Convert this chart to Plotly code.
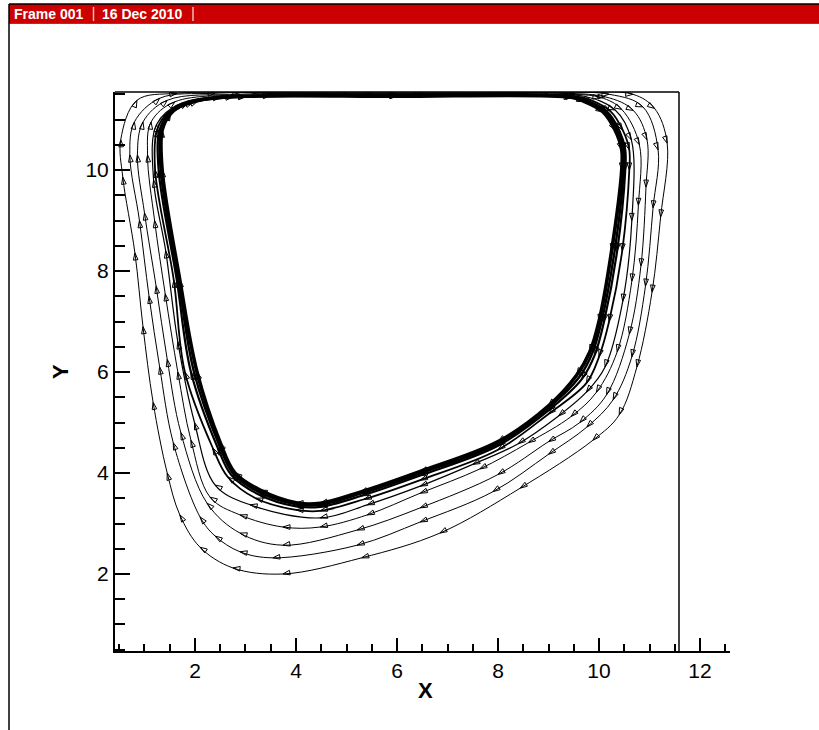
import plotly.graph_objects as go

# ---- streamline data; flow is clockwise ----
s1_x = [3.74, 2.75, 2.10, 1.70, 1.45, 1.17, 0.97, 0.81, 0.57, 0.53, 0.85, 1.64, 3.5, 6.5, 9.5, 10.67, 11.10, 11.35, 11.22, 11.05, 10.75, 10.40, 9.88, 8.44, 6.85, 5.30, 3.74]
s1_y = [2.00, 2.12, 2.53, 3.17, 4.00, 5.40, 6.90, 8.36, 9.86, 10.60, 11.38, 11.52, 11.53, 11.53, 11.53, 11.50, 11.22, 10.53, 9.07, 7.58, 6.10, 5.15, 4.65, 3.70, 2.81, 2.32, 2.00]

s2_x = [3.54, 2.89, 2.40, 2.10, 1.57, 1.30, 1.09, 0.90, 0.71, 0.80, 1.30, 2.4, 5.0, 8.0, 10.2, 10.87, 11.17, 11.07, 10.92, 10.65, 10.28, 9.76, 9.0, 7.9, 6.46, 5.21, 3.54]
s2_y = [2.32, 2.44, 2.75, 3.13, 4.60, 6.10, 7.50, 9.00, 10.30, 10.95, 11.42, 11.52, 11.52, 11.52, 11.50, 11.25, 10.40, 9.25, 7.70, 6.30, 5.45, 4.91, 4.37, 3.63, 3.03, 2.57, 2.32]

s3_x = [3.74, 2.89, 2.24, 1.72, 1.45, 1.23, 1.00, 0.86, 0.97, 1.45, 2.89, 5.5, 8.5, 10.12, 10.68, 10.95, 10.93, 10.83, 10.60, 10.15, 9.62, 9.0, 8.0, 6.46, 5.21, 3.74]
s3_y = [2.57, 2.81, 3.40, 4.80, 6.25, 7.70, 9.15, 10.30, 10.95, 11.38, 11.50, 11.51, 11.51, 11.45, 11.18, 10.60, 9.66, 8.10, 6.75, 5.55, 5.00, 4.62, 3.97, 3.31, 2.87, 2.57]

s4_x = [4.48, 3.74, 2.89, 2.30, 1.92, 1.66, 1.41, 1.20, 1.06, 1.13, 1.60, 3.29, 6.0, 9.0, 10.02, 10.45, 10.80, 10.78, 10.65, 10.36, 9.95, 9.45, 8.60, 7.64, 6.46, 5.41, 4.48]
s4_y = [2.93, 2.93, 3.17, 3.52, 4.65, 6.00, 7.55, 9.00, 10.30, 10.95, 11.35, 11.49, 11.50, 11.50, 11.44, 11.20, 10.50, 9.30, 7.80, 6.40, 5.60, 5.12, 4.60, 4.08, 3.60, 3.17, 2.93]

s5_x = [4.48, 3.09, 2.40, 1.99, 1.66, 1.42, 1.18, 1.24, 1.75, 3.49, 6.5, 9.6, 10.32, 10.64, 10.65, 10.47, 10.12, 9.75, 9.20, 8.40, 7.50, 6.46, 5.41, 4.48]
s5_y = [3.11, 3.37, 3.76, 5.00, 6.60, 8.40, 9.80, 10.90, 11.33, 11.47, 11.49, 11.48, 11.19, 10.60, 9.00, 7.40, 6.10, 5.60, 5.13, 4.58, 4.17, 3.74, 3.37, 3.11]

b1_x = [4.48, 4.0, 3.20, 2.65, 2.35, 1.80, 1.58, 1.21, 1.25, 1.48, 2.0, 3.0, 6.0, 9.55, 9.85, 10.22, 10.47, 10.60, 10.60, 10.46, 10.20, 10.00, 9.75, 9.00, 8.00, 6.46, 5.35, 4.48]
b1_y = [3.25, 3.27, 3.50, 3.92, 4.50, 6.00, 7.82, 10.0, 10.80, 11.15, 11.38, 11.46, 11.48, 11.46, 11.38, 11.17, 10.79, 10.40, 10.0, 8.40, 7.00, 6.30, 5.78, 5.17, 4.46, 3.86, 3.48, 3.25]

b2_x = [4.48, 4.0, 3.25, 2.72, 2.45, 1.92, 1.64, 1.28, 1.30, 1.50, 2.05, 3.0, 6.0, 9.5, 9.78, 10.15, 10.40, 10.52, 10.52, 10.36, 10.10, 9.92, 9.66, 9.00, 8.00, 6.46, 5.30, 4.48]
b2_y = [3.33, 3.34, 3.58, 3.96, 4.50, 6.00, 7.82, 10.0, 10.80, 11.13, 11.36, 11.45, 11.47, 11.45, 11.37, 11.17, 10.79, 10.40, 10.0, 8.40, 7.00, 6.35, 5.86, 5.24, 4.54, 3.95, 3.55, 3.33]

b3_x = [4.48, 4.0, 3.27, 2.76, 2.48, 1.98, 1.67, 1.32, 1.33, 1.51, 1.95, 2.75, 6.0, 9.48, 9.74, 10.12, 10.36, 10.49, 10.49, 10.31, 10.05, 9.87, 9.61, 9.00, 8.00, 6.46, 5.28, 4.48]
b3_y = [3.37, 3.38, 3.62, 3.98, 4.55, 6.00, 7.82, 10.0, 10.80, 11.125, 11.345, 11.445, 11.465, 11.445, 11.365, 11.16, 10.79, 10.40, 10.0, 8.40, 7.00, 6.38, 5.90, 5.29, 4.58, 3.99, 3.59, 3.37]

b4_x = [4.48, 4.0, 3.29, 2.79, 2.50, 2.04, 1.70, 1.35, 1.35, 1.52, 1.85, 2.50, 6.0, 9.45, 9.70, 10.08, 10.32, 10.45, 10.45, 10.25, 10.00, 9.82, 9.56, 9.00, 8.00, 6.46, 5.27, 4.48]
b4_y = [3.40, 3.41, 3.66, 4.00, 4.60, 6.00, 7.82, 10.0, 10.79, 11.12, 11.33, 11.44, 11.46, 11.44, 11.36, 11.15, 10.79, 10.40, 10.0, 8.40, 7.00, 6.40, 5.94, 5.33, 4.62, 4.03, 3.62, 3.40]

streamlines = [
    (s1_x, s1_y, 1.0), (s2_x, s2_y, 1.0), (s3_x, s3_y, 1.0),
    (s4_x, s4_y, 1.0), (s5_x, s5_y, 1.2),
    (b1_x, b1_y, 1.8), (b2_x, b2_y, 2.2), (b3_x, b3_y, 2.4), (b4_x, b4_y, 3.6),
]

x_ticks = [2, 4, 6, 8, 10, 12]
y_ticks = [2, 4, 6, 8, 10]

W, H = 819, 730
L, R, T, B = 115, 89, 92, 79
PW, PH = W - L - R, H - T - B


def px(xp):
    return (xp - L) / PW


def py(yp):
    return (H - B - yp) / PH


fig = go.Figure()
for xs, ys, w in streamlines:
    fig.add_trace(go.Scatter(
        x=xs, y=ys, mode="lines+markers",
        line=dict(color="black", width=w, shape="spline", smoothing=1.0),
        marker=dict(symbol="arrow-open", size=7.5, angleref="previous",
                    color="black", line=dict(color="black", width=1)),
        hoverinfo="skip", showlegend=False,
    ))

font = "Arial, Liberation Sans, Helvetica, sans-serif"

fig.update_xaxes(
    range=[0.416, 12.594], tickvals=x_ticks, ticktext=[str(v) for v in x_ticks],
    ticks="inside", ticklen=13, tickwidth=2, tickcolor="black",
    minor=dict(dtick=0.5, tick0=0, ticks="inside", ticklen=7, tickwidth=1.5, tickcolor="black"),
    showline=True, linecolor="black", linewidth=2, showgrid=False, zeroline=False,
    tickfont=dict(family=font, size=21, color="black"),
)
fig.update_yaxes(
    range=[0.475, 11.545], tickvals=y_ticks, ticktext=[str(v) for v in y_ticks],
    ticks="inside", ticklen=15, tickwidth=2, tickcolor="black",
    minor=dict(dtick=0.5, tick0=0, ticks="inside", ticklen=10, tickwidth=1.5, tickcolor="black"),
    showline=True, linecolor="black", linewidth=2, showgrid=False, zeroline=False,
    tickfont=dict(family=font, size=21, color="black"),
)

shapes = [
    dict(type="line", xref="paper", yref="paper", x0=0, x1=px(679), y0=1, y1=1,
         line=dict(color="black", width=1.5)),
    dict(type="line", xref="paper", yref="paper", x0=px(679), x1=px(679), y0=0, y1=1,
         line=dict(color="black", width=1.5)),
    dict(type="rect", xref="paper", yref="paper", x0=px(9), x1=px(830), y0=py(23), y1=py(4),
         fillcolor="#CC0000", line=dict(width=0)),
    dict(type="line", xref="paper", yref="paper", x0=px(9), x1=px(830), y0=py(4), y1=py(4),
         line=dict(color="black", width=1.5)),
    dict(type="line", xref="paper", yref="paper", x0=px(9), x1=px(830), y0=py(23.5), y1=py(23.5),
         line=dict(color="#555555", width=1)),
    dict(type="line", xref="paper", yref="paper", x0=px(9), x1=px(9), y0=py(4), y1=py(740),
         line=dict(color="black", width=1.5)),
    dict(type="line", xref="paper", yref="paper", x0=px(93.5), x1=px(93.5), y0=py(7), y1=py(21),
         line=dict(color="#F2B8B8", width=1.5)),
    dict(type="line", xref="paper", yref="paper", x0=px(193), x1=px(193), y0=py(7), y1=py(21),
         line=dict(color="#F2B8B8", width=1.5)),
]

annotations = [
    dict(text="<b>Frame 001</b>", xref="paper", yref="paper", x=px(12), y=py(14),
         xanchor="left", yanchor="middle", showarrow=False,
         font=dict(family=font, size=14, color="white")),
    dict(text="<b>16 Dec 2010</b>", xref="paper", yref="paper", x=px(100), y=py(14),
         xanchor="left", yanchor="middle", showarrow=False,
         font=dict(family=font, size=14, color="white")),
    dict(text="<b>X</b>", xref="paper", yref="paper", x=px(425), y=py(690),
         xanchor="center", yanchor="middle", showarrow=False,
         font=dict(family=font, size=22, color="black")),
    dict(text="<b>Y</b>", xref="paper", yref="paper", x=px(60), y=py(372),
         xanchor="center", yanchor="middle", showarrow=False, textangle=-90,
         font=dict(family=font, size=22, color="black")),
]

fig.update_layout(
    width=W, height=H, autosize=False,
    margin=dict(l=L, r=R, t=T, b=B, pad=0),
    paper_bgcolor="white", plot_bgcolor="white",
    shapes=shapes, annotations=annotations, showlegend=False,
)

fig.write_html("out.html", config={"displayModeBar": False},
               post_script="document.body.style.margin='0px';")
